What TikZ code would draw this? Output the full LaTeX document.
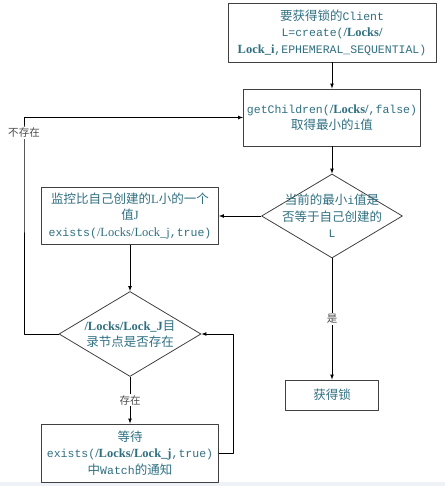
\documentclass[tikz,border=0pt]{standalone}
\usepackage{fontspec}
\setmainfont{Noto Sans CJK SC}
\setmonofont{Liberation Mono}[Scale=0.92]
\newfontfamily\lockfont{Liberation Serif}
\usetikzlibrary{shapes.geometric}
\definecolor{txtteal}{HTML}{2F6F80}
\definecolor{boxgray}{HTML}{404040}
\definecolor{lblgray}{HTML}{4A4A4A}
\definecolor{stripgray}{HTML}{EEF1F6}
\newcommand{\lk}[1]{{\lockfont\bfseries #1}}
\newcommand{\lkn}[1]{{\lockfont #1}}
\newcommand{\mono}[1]{{\ttfamily #1}}
\begin{document}
\begin{tikzpicture}[x=1pt,y=-1pt,line join=round,>=latex,
    box/.style={draw=boxgray,line width=0.9pt,align=center,text=txtteal,inner sep=2pt},
    dia/.style={draw=boxgray,line width=0.8pt,shape=diamond,inner sep=0pt},
    txt/.style={align=center,text=txtteal,inner sep=0pt},
    lbl/.style={fill=white,text=lblgray,font=\fontsize{10.5}{12}\selectfont,inner sep=1pt},
    link/.style={->,line width=0.7pt}]
  \fontsize{12.5}{16.5}\selectfont
  \fill[stripgray] (0,482) rectangle (445,486);
  \useasboundingbox (0,0) rectangle (445,486);

  % right column
  \node[box,minimum width=208pt,minimum height=59pt] (b1) at (332,32.5)
    {要获得锁的\mono{Client}\\\mono{L=create(}\lk{/Locks/}\\\lk{Lock\_i}\mono{,EPHEMERAL\_SEQUENTIAL)}};
  \node[box,minimum width=177pt,minimum height=57pt] (b2) at (332,117.5)
    {\mono{getChildren(}\lk{/Locks/}\mono{,false)}\\取得最小的\mono{i}值};
  \node[dia,minimum width=141pt,minimum height=84pt] (d1) at (332,216) {};
  \node[txt] (d1t) at (d1) {当前的最小\mono{i}值是\\否等于自己创建的\\\mono{L}};
  \node[box,minimum width=93pt,minimum height=30pt] (b5) at (332,395) {获得锁};

  % left column
  \node[box,minimum width=177pt,minimum height=57pt] (b3) at (130,216)
    {监控比自己创建的\lkn{L}小的一个\\值\lkn{J}\\\mono{exists(}\lkn{/Locks/Lock\_j}\mono{,true)}};
  \node[dia,minimum width=142pt,minimum height=85pt] (d2) at (130,334) {};
  \node[txt] (d2t) at (d2) {\lk{/Locks/Lock\_J}目\\录节点是否存在};
  \node[box,minimum width=177pt,minimum height=58pt] (b4) at (130,453)
    {等待\\\mono{exists(}\lk{/Locks/Lock\_j}\mono{,true)}\\中\mono{Watch}的通知};

  % connectors
  \draw[link] (b1) -- (b2);
  \draw[link] (b2) -- (d1);
  \draw[link] (d1) -- (b3);
  \draw[link] (d1) -- node[lbl] (yes) {是} (b5);
  \draw[link] (b3) -- (d2);
  \draw[link] (d2) -- node[lbl] (exist) {存在} (b4);
  \draw[link] (b4.east) -- ++(14,0) |- (d2.east);
  \coordinate (lx) at (24,133);
  \draw[link] (d2.west) -| (lx) |- (b2.west);
  \node[lbl] (noexist) at (lx) {不存在};
\end{tikzpicture}
\end{document}
